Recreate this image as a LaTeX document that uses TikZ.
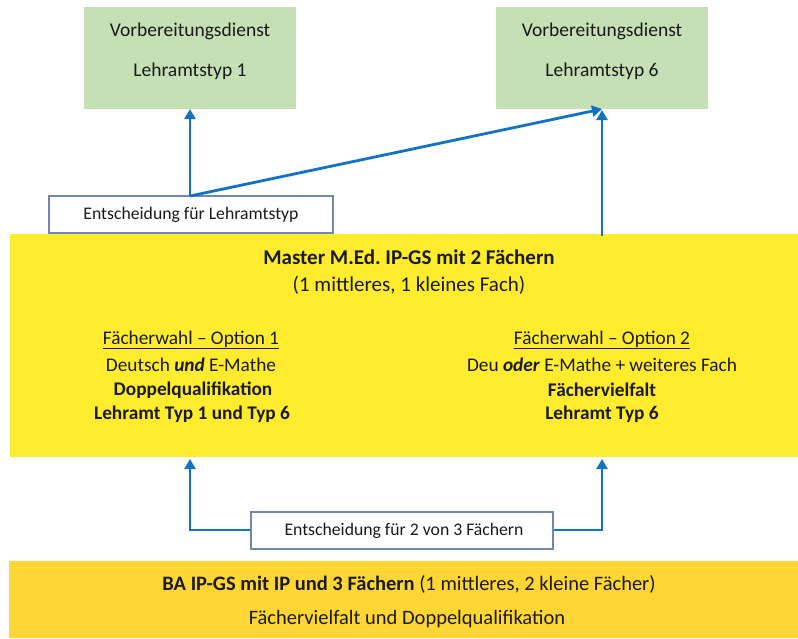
\documentclass[tikz,border=0pt]{standalone}
\usepackage{fontspec}
\setmainfont{Carlito}
\usetikzlibrary{arrows.meta}
\frenchspacing
\definecolor{grn}{HTML}{C5E0B4}
\definecolor{ylw}{HTML}{FFEC2E}
\definecolor{gold}{HTML}{FFD633}
\definecolor{arr}{HTML}{1472C4}
\definecolor{bord}{HTML}{7387AE}
\definecolor{txt}{HTML}{1A1A1A}
\begin{document}
\begin{tikzpicture}[x=1pt,y=-1pt,
  every node/.style={font=\fontsize{19.3}{22}\selectfont, text=txt},
  greentxt/.style={font=\fontsize{19.5}{22}\selectfont},
  dectxt/.style={font=\fontsize{17.7}{20}\selectfont},
  bigtxt/.style={font=\fontsize{21}{24}\selectfont},
  batxt/.style={font=\fontsize{20.5}{24}\selectfont},
  greenbox/.style={fill=grn, draw=none, inner sep=0pt},
  decbox/.style={fill=white, draw=bord, line width=1.3pt, inner sep=0pt},
  arrowline/.style={draw=arr, line width=2.8pt, -{Triangle[length=10pt,width=11pt]}}]
\useasboundingbox (0,0) rectangle (798,638);
% boxes
\path[fill=ylw] (10,234) rectangle (798,457);
\path[fill=gold] (9,561) rectangle (798,638);
\node[greenbox, minimum width=212pt, minimum height=102pt] (g1) at (190,58) {};
\node[greenbox, minimum width=212pt, minimum height=102pt] (g6) at (602,58) {};
\node[greentxt] at (190,31) {Vorbereitungsdienst};
\node[greentxt] at (190,71) {Lehramtstyp 1};
\node[greentxt] at (602,31) {Vorbereitungsdienst};
\node[greentxt] at (602,71) {Lehramtstyp 6};
\node[decbox, minimum width=284pt, minimum height=37pt] (dec1) at (191,214.5) {};
\node[dectxt] at (191,215) {Entscheidung für Lehramtstyp};
\node[decbox, minimum width=302pt, minimum height=37pt] (dec2) at (402,530.5) {};
\node[dectxt] at (404,531) {Entscheidung für 2 von 3 Fächern};
% texts in master
\node[bigtxt] at (409,257) {\bfseries Master M.Ed. IP-GS mit 2 Fächern};
\node[bigtxt] at (409,285) {(1 mittleres, 1 kleines Fach)};
\node at (191,340) {\underline{Fächerwahl – Option 1}};
\node at (191,365) {Deutsch \textbf{\textit{und}} E-Mathe};
\node at (193,390) {\bfseries Doppelqualifikation};
\node at (192,414) {\bfseries Lehramt Typ 1 und Typ 6};
\node at (602,340) {\underline{Fächerwahl – Option 2}};
\node at (602,365) {Deu \textbf{\textit{oder}} E-Mathe + weiteres Fach};
\node at (602,390) {\bfseries Fächervielfalt};
\node at (602,414) {\bfseries Lehramt Typ 6};
% BA texts
\node[batxt] at (409,584) {\textbf{BA IP-GS mit IP und 3 Fächern} (1 mittleres, 2 kleine Fächer)};
\node[batxt] at (407,619) {Fächervielfalt und Doppelqualifikation};
% arrows top
\coordinate (d1top) at (190,196);
\draw[arrowline] (d1top) -- (190,109);
\draw[arrowline] (d1top) -- (602,109);
\draw[arrowline] (602,236) -- (602,110);
% arrows bottom
\draw[arrowline] (dec2.west |- 0,530) -| (190,459);
\draw[arrowline] (dec2.east |- 0,530) -| (602,459);
\end{tikzpicture}
\end{document}
